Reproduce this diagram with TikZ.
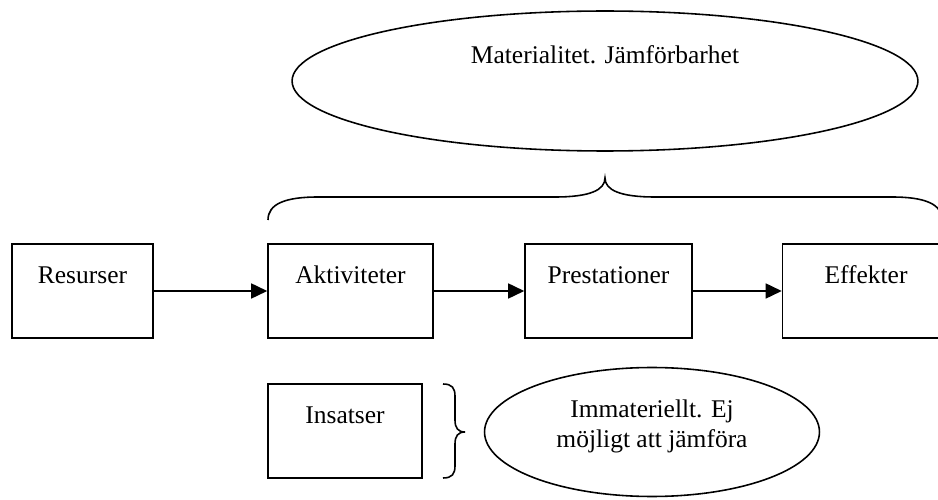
\documentclass[tikz,border=0pt]{standalone}
\usepackage{fontspec}
\setmainfont{Liberation Serif}
\usetikzlibrary{arrows.meta,shapes.geometric}
\begin{document}
\begin{tikzpicture}[x=0.02cm, y=-0.02cm, line width=0.9pt,
  font=\fontsize{14.5}{17}\selectfont,
  ruta/.style={rectangle, draw=black, inner ysep=0pt, text height=0.78cm, text depth=1.1cm},
  oval/.style={ellipse, draw=black, align=center},
  pil/.style={-{Triangle[length=0.32cm, width=0.3cm]}}]
\useasboundingbox (0,0) rectangle (938,500);
\clip (0,0) rectangle (938,500);
% the chain
\node[ruta, minimum width=2.82cm] (res) at (82.5, 291) {Resurser};
\node[ruta, minimum width=3.3cm] (akt) at (350.5, 291) {Aktiviteter};
\node[ruta, minimum width=3.34cm] (pre) at (608.5, 291) {Prestationer};
\node[ruta, minimum width=3.34cm] (eff) at (866, 291) {Effekter};
\draw[pil] (res) -- (akt);
\draw[pil] (akt) -- (pre);
\draw[pil] (pre) -- (eff);
% top
\node[oval, minimum width=12.52cm, minimum height=2.8cm, text height=0.35cm, text depth=1.07cm] (mat) at (605, 81) {Materialitet. Jämförbarhet};
\draw (268,220) .. controls (268,204) and (285,197) .. (318,197) -- (555,197)
  .. controls (590,197) and (605,190) .. (605,178)
  .. controls (605,190) and (620,197) .. (655,197) -- (892,197)
  .. controls (925,197) and (942,204) .. (942,220);
% bottom
\node[ruta, minimum width=3.08cm] (ins) at (345, 431) {Insatser};
\draw (443,384) .. controls (452,384) and (455,388) .. (455,396) -- (455,420)
  .. controls (455,428) and (458,432) .. (465,432)
  .. controls (458,432) and (455,436) .. (455,444) -- (455,466)
  .. controls (455,474) and (452,478) .. (443,478);
\node[oval, minimum width=6.7cm, minimum height=2.58cm, text depth=0.35cm] (imm) at (652, 432) {Immateriellt. Ej\\möjligt att jämföra};
\end{tikzpicture}
\end{document}
